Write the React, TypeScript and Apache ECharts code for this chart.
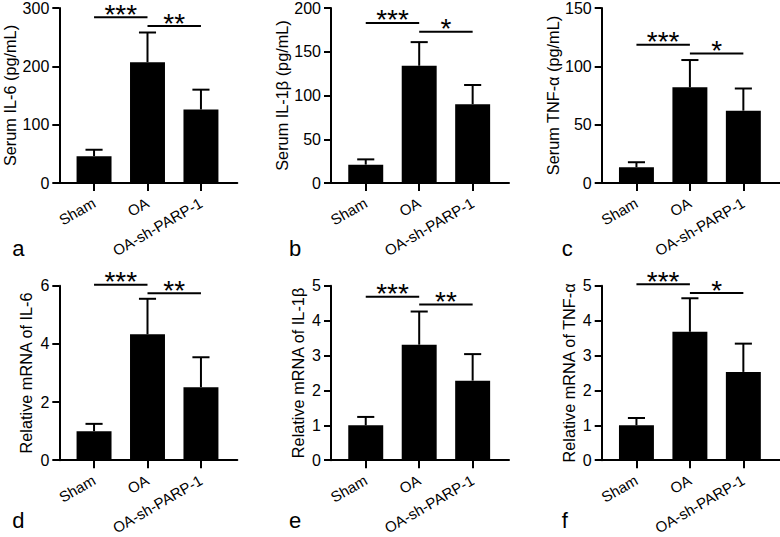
import React, { useEffect, useRef } from "react";
import * as echarts from "echarts";

const FONT = 'Arial, "Liberation Sans", Helvetica, sans-serif';

const categories = ["Sham", "OA", "OA-sh-PARP-1"];

const serumIL6 = [46, 207, 126];
const serumIL6Err = [11, 51, 34];
const serumIL1b = [21, 134, 90];
const serumIL1bErr = [6, 27, 22];
const serumTNF = [13.5, 82, 62];
const serumTNFErr = [4.3, 23.4, 19];
const mrnaIL6 = [1.0, 4.33, 2.51];
const mrnaIL6Err = [0.25, 1.22, 1.03];
const mrnaIL1b = [1.0, 3.31, 2.28];
const mrnaIL1bErr = [0.24, 0.95, 0.76];
const mrnaTNF = [1.0, 3.68, 2.53];
const mrnaTNFErr = [0.21, 0.96, 0.81];

const yTitles = [
  "Serum IL-6 (pg/mL)",
  "Serum IL-1β (pg/mL)",
  "Serum TNF-α (pg/mL)",
  "Relative mRNA of IL-6",
  "Relative mRNA of IL-1β",
  "Relative mRNA of TNF-α",
];
const yMax = [300, 200, 150, 6, 5, 5];
const yInterval = [100, 50, 50, 2, 1, 1];
const panelLetters = ["a", "b", "c", "d", "e", "f"];

// significance brackets: [from, to, y-level]
const sigA = [[0, 1, 284], [1, 2, 269]];
const sigB = [[0, 1, 183], [1, 2, 173]];
const sigC = [[0, 1, 118.6], [1, 2, 111]];
const sigD = [[0, 1, 6.03], [1, 2, 5.74]];
const sigE = [[0, 1, 4.68], [1, 2, 4.46]];
const sigF = [[0, 1, 5.04], [1, 2, 4.79]];
const sigLabelsA = ["***", "**"];
const sigLabelsB = ["***", "*"];
const sigLabelsC = ["***", "*"];
const sigLabelsD = ["***", "**"];
const sigLabelsE = ["***", "**"];
const sigLabelsF = ["***", "*"];

const means = [serumIL6, serumIL1b, serumTNF, mrnaIL6, mrnaIL1b, mrnaTNF];
const errs = [serumIL6Err, serumIL1bErr, serumTNFErr, mrnaIL6Err, mrnaIL1bErr, mrnaTNFErr];
const sigs = [sigA, sigB, sigC, sigD, sigE, sigF];
const sigLabels = [sigLabelsA, sigLabelsB, sigLabelsC, sigLabelsD, sigLabelsE, sigLabelsF];

const gridLefts = [59.3, 331, 601.7];
const gridTops = [6, 285.7];
const GRID_W = 178;
const GRID_H = 177;
const BAR_W = 0.654;
const CAP_W = 0.32;

export default function App() {
  const ref = useRef<HTMLDivElement>(null);
  useEffect(() => {
    if (!ref.current) return;
    const chart = echarts.init(ref.current, undefined, { renderer: "svg" });
    const grids: any[] = [];
    const xAxes: any[] = [];
    const yAxes: any[] = [];
    const series: any[] = [];
    const graphics: any[] = [];
    for (let i = 0; i < 6; i++) {
      const col = i % 3;
      const row = Math.floor(i / 3);
      grids.push({
        left: gridLefts[col],
        top: gridTops[row],
        width: GRID_W,
        height: GRID_H,
        containLabel: false,
      });
      xAxes.push({
        gridIndex: i,
        type: "value",
        min: -0.65,
        max: 2.68,
        splitLine: { show: false },
        axisLine: { show: true, onZero: false, lineStyle: { color: "#000", width: 2 } },
        axisTick: { show: true, length: 8, lineStyle: { color: "#000", width: 2 }, customValues: [0, 1, 2] },
        axisLabel: {
          customValues: [0, 1, 2],
          formatter: (v: number) => categories[Math.round(v)],
          rotate: 30,
          margin: 18.5,
          fontSize: 15,
          color: "#000",
          fontFamily: FONT,
        },
      });
      yAxes.push({
        gridIndex: i,
        type: "value",
        min: 0,
        max: yMax[i],
        interval: yInterval[i],
        splitLine: { show: false },
        axisLine: { show: true, onZero: false, lineStyle: { color: "#000", width: 2 } },
        axisTick: { show: true, length: 7, lineStyle: { color: "#000", width: 2 } },
        axisLabel: { margin: 10, fontSize: 16, color: "#000", fontFamily: FONT },
        name: yTitles[i],
        nameLocation: "middle",
        nameGap: row === 0 ? 41 : 25,
        nameTextStyle: { fontSize: 16.3, color: "#000", fontFamily: FONT },
      });
      const m = means[i];
      const e = errs[i];
      series.push({
        type: "custom",
        xAxisIndex: i,
        yAxisIndex: i,
        data: m.map((v, k) => [k, v, e[k]]),
        encode: { x: 0, y: 1 },
        renderItem: (params: any, api: any) => {
          const x = api.value(0);
          const mv = api.value(1);
          const ev = api.value(2);
          const base = api.coord([x, 0]);
          const top = api.coord([x, mv]);
          const et = api.coord([x, mv + ev]);
          const w = api.size([BAR_W, 0])[0];
          const cw = api.size([CAP_W, 0])[0];
          return {
            type: "group",
            children: [
              { type: "line", shape: { x1: top[0], y1: top[1], x2: et[0], y2: et[1] }, style: { stroke: "#000", lineWidth: 2 } },
              { type: "line", shape: { x1: et[0] - cw / 2, y1: et[1], x2: et[0] + cw / 2, y2: et[1] }, style: { stroke: "#000", lineWidth: 2 } },
              { type: "rect", shape: { x: base[0] - w / 2, y: top[1], width: w, height: base[1] - top[1] }, style: { fill: "#000" } },
            ],
          };
        },
      });
      const labels = sigLabels[i];
      series.push({
        type: "custom",
        xAxisIndex: i,
        yAxisIndex: i,
        data: sigs[i],
        encode: { x: [0, 1], y: 2 },
        renderItem: (params: any, api: any) => {
          const p1 = api.coord([api.value(0), api.value(2)]);
          const p2 = api.coord([api.value(1), api.value(2)]);
          return {
            type: "group",
            children: [
              { type: "line", shape: { x1: p1[0], y1: p1[1], x2: p2[0], y2: p2[1] }, style: { stroke: "#000", lineWidth: 2 } },
              {
                type: "text",
                x: (p1[0] + p2[0]) / 2,
                y: p1[1] - 3,
                style: {
                  text: labels[params.dataIndex],
                  fill: "#000",
                  font: `28px ${FONT}`,
                  align: "center",
                  verticalAlign: "middle",
                },
              },
            ],
          };
        },
      });
      graphics.push({
        type: "text",
        x: gridLefts[col] - (col === 0 ? 47 : col === 1 ? 42 : 40),
        y: row === 0 ? 248 : 520,
        style: {
          text: panelLetters[i],
          fill: "#000",
          font: `22px ${FONT}`,
          verticalAlign: "middle",
        },
      });
    }
    chart.setOption({
      animation: false,
      backgroundColor: "#fff",
      grid: grids,
      xAxis: xAxes,
      yAxis: yAxes,
      series,
      graphic: graphics,
    });
    return () => chart.dispose();
  }, []);
  return (
    <div
      ref={ref}
      style={{ position: "fixed", left: 0, top: 0, width: 780, height: 537 }}
    />
  );
}
